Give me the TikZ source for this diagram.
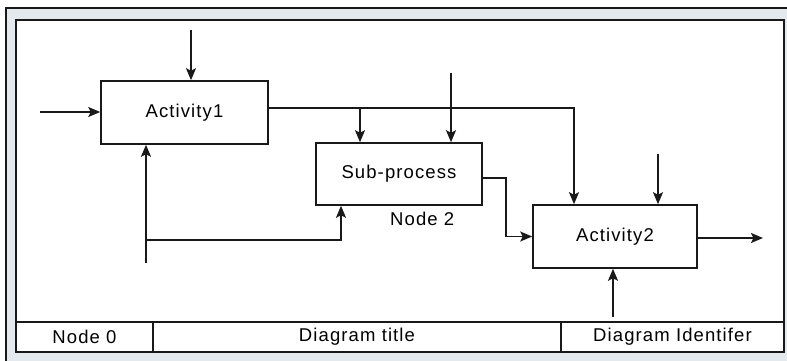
\documentclass[tikz,border=0pt]{standalone}
\usepackage{fontspec}
\setmainfont[LetterSpace=6]{Liberation Sans}
\usetikzlibrary{arrows.meta, positioning, calc}
\definecolor{framegray}{RGB}{227,233,237}
\definecolor{linedark}{RGB}{25,25,25}

\begin{document}
\begin{tikzpicture}[
        x=1pt, y=-1pt,
        node distance=1cm,
        box/.style={rectangle, draw=linedark, line width=1.6pt, fill=white, minimum width=166pt, minimum height=63pt, align=center, font=\fontsize{18.5}{20}\selectfont, inner sep=0pt},
        tagtext/.style={font=\fontsize{18.5}{20}\selectfont, inner sep=0pt},
        arrow/.style={-{Stealth[length=12pt, width=10pt, inset=2.5pt]}, line width=1.6pt, draw=linedark}
    ]
        \useasboundingbox (0,0) rectangle (787,361);
        \fill[white] (0,0) rectangle (787,361);
        \fill[framegray] (6,8) rectangle (787,361);
        \draw[linedark, line width=1.6pt] (6,361) -- (6,8) -- (787,8);
        \draw[linedark, line width=1.6pt, fill=white] (16,20) rectangle (784,352);
        \draw[linedark, line width=1.6pt] (16,322) -- (784,322);
        \draw[linedark, line width=1.6pt] (153,322) -- (153,352);
        \draw[linedark, line width=1.6pt] (561,322) -- (561,352);
        
        \node[tagtext] (node0) at (84.5,337) {Node 0};
        \node[tagtext] (title) at (357,337) {Diagram title};
        \node[tagtext] (ident) at (672.5,337) {Diagram Identifer};
        
        \node[box, minimum width=167pt] (act1) at (184.5,112.5) {Activity1};
        \node[box, minimum height=62pt] (sub) at (399,174) {Sub-process};
        \node[box, minimum width=164pt] (act2) at (615,236.5) {Activity2};
        \node[tagtext, below right=6pt and -9pt of sub.south] (node2) {Node 2};
        
        \coordinate (in1) at (40,112);
        \coordinate (ctl1) at (191,30);
        \coordinate (mech1) at (146,263);
        \coordinate (ctlsub) at (451,73);
        \coordinate (ctl2) at (658,154);
        \coordinate (out2) at (763,238);
        \coordinate (mech2) at (613,317);
        \coordinate (j1) at (360,108);
        \coordinate (j2) at (574,108);
        \coordinate (j3) at (146,240);
        \coordinate (j4) at (341,240);
        \coordinate (j5) at (506,178);
        
        \draw[arrow] (in1) -- (in1 -| act1.west);
        \draw[arrow] (ctl1) -- (ctl1 |- act1.north);
        \draw[arrow] (mech1) -- (mech1 |- act1.south);
        \draw[arrow] (j3) -- (j4) -- (j4 |- sub.south);
        \draw[arrow] (j2 -| act1.east) -- (j2) -- (j2 |- act2.north);
        \draw[arrow] (j1) -- (j1 |- sub.north);
        \draw[arrow] (ctlsub) -- (ctlsub |- sub.north);
        \draw[arrow] (j5 -| sub.east) -- (j5) |- (act2.west);
        \draw[arrow] (ctl2) -- (ctl2 |- act2.north);
        \draw[arrow] (act2.east |- out2) -- (out2);
        \draw[arrow] (mech2) -- (mech2 |- act2.south);
    \end{tikzpicture}
\end{document}
